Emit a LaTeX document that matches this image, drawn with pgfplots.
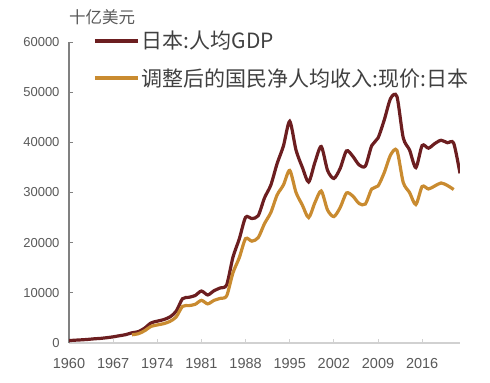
\documentclass[border=0pt]{standalone}
\usepackage{pgfplots}
\pgfplotsset{compat=1.18}
\usepackage{fontspec}
\setmainfont{Liberation Sans}
\newfontfamily\cjk{Noto Sans CJK SC}
\definecolor{gdpc}{RGB}{108,30,32}
\definecolor{nnic}{RGB}{201,139,48}
\definecolor{tickc}{RGB}{89,89,89}
\pgfplotstableread{
year val
1960 479
1961 563
1962 633
1963 717
1964 835
1965 919
1966 1058
1967 1229
1968 1451
1969 1669
1970 2037
1971 2272
1972 2967
1973 3997
1974 4354
1975 4659
1976 5197
1977 6335
1978 8821
1979 9105
1980 9463
1981 10361
1982 9578
1983 10425
1984 10985
1985 11585
1986 17112
1987 20745
1988 25059
1989 24813
1990 25371
1991 28925
1992 31465
1993 35766
1994 39269
1995 44198
1996 38437
1997 35022
1998 32100
1999 36027
2000 39169
2001 34406
2002 32800
2003 34808
2004 38300
2005 37218
2006 35500
2007 35275
2008 39339
2009 40855
2010 44508
2011 48760
2012 49145
2013 40898
2014 38475
2015 34961
2016 39375
2017 38834
2018 39751
2019 40416
2020 39918
2021 39827
2022 33815
}\gdp
\pgfplotstableread{
year val
1970 1650
1971 1850
1972 2450
1973 3300
1974 3600
1975 3850
1976 4300
1977 5200
1978 7300
1979 7450
1980 7700
1981 8500
1982 7800
1983 8500
1984 8900
1985 9400
1986 14000
1987 17000
1988 20800
1989 20300
1990 21000
1991 23800
1992 26000
1993 29500
1994 31500
1995 34400
1996 30000
1997 27500
1998 25000
1999 28000
2000 30300
2001 26500
2002 25200
2003 27000
2004 29900
2005 29300
2006 27800
2007 27700
2008 30700
2009 31300
2010 34000
2011 37500
2012 38400
2013 32000
2014 30000
2015 27600
2016 31200
2017 30700
2018 31300
2019 31900
2020 31400
2021 30600
}\nni
\begin{document}
\begin{tikzpicture}
\useasboundingbox (0,0) rectangle (490bp,383bp);
\node[anchor=west, font=\cjk\fontsize{16.5bp}{19bp}\selectfont, text=tickc, inner sep=0pt] at (69bp,366bp) {十亿美元};
\begin{axis}[
  at={(69bp,40bp)}, anchor=south west,
  width=391bp, height=301bp, scale only axis,
  xmin=1960, xmax=2022, ymin=0, ymax=60000,
  xtick={1960,1967,...,2016},
  ytick={0,10000,...,60000},
  /pgf/number format/assume math mode=true,
  xticklabel style={/pgf/number format/set thousands separator={}, font=\fontsize{14.5bp}{17bp}\selectfont, text=tickc},
  yticklabel style={/pgf/number format/set thousands separator={}, font=\fontsize{13bp}{15bp}\selectfont, text=tickc},
  scaled y ticks=false,
  axis x line*=bottom, axis y line*=left,
  x axis line style={draw=black!18, line width=1.3bp, -},
  y axis line style={draw=black!50, line width=1.3bp, -},
  tick align=inside, major tick length=4bp,
  xtick style={draw=black!18, line width=1bp},
  ytick style={draw=black!50, line width=1bp},
  xticklabel shift=12bp, yticklabel shift=6bp,
  legend cell align=left,
  legend style={draw=none, fill=none, at={(24bp,314bp)}, anchor=north west,
    font=\cjk\fontsize{21bp}{24bp}\selectfont, text=black!75,
    row sep=14bp, inner sep=0pt},
  legend image code/.code={\draw[#1, line width=3.5bp] (0bp,0bp) -- (43bp,0bp);},
]
\addplot[gdpc, line width=3.2bp, smooth, tension=0.45] table[x=year,y=val] {\gdp};
\addlegendentry{日本:人均GDP}
\addplot[nnic, line width=3.2bp, smooth, tension=0.45] table[x=year,y=val] {\nni};
\addlegendentry{调整后的国民净人均收入:现价:日本}
\end{axis}
\end{tikzpicture}
\end{document}
